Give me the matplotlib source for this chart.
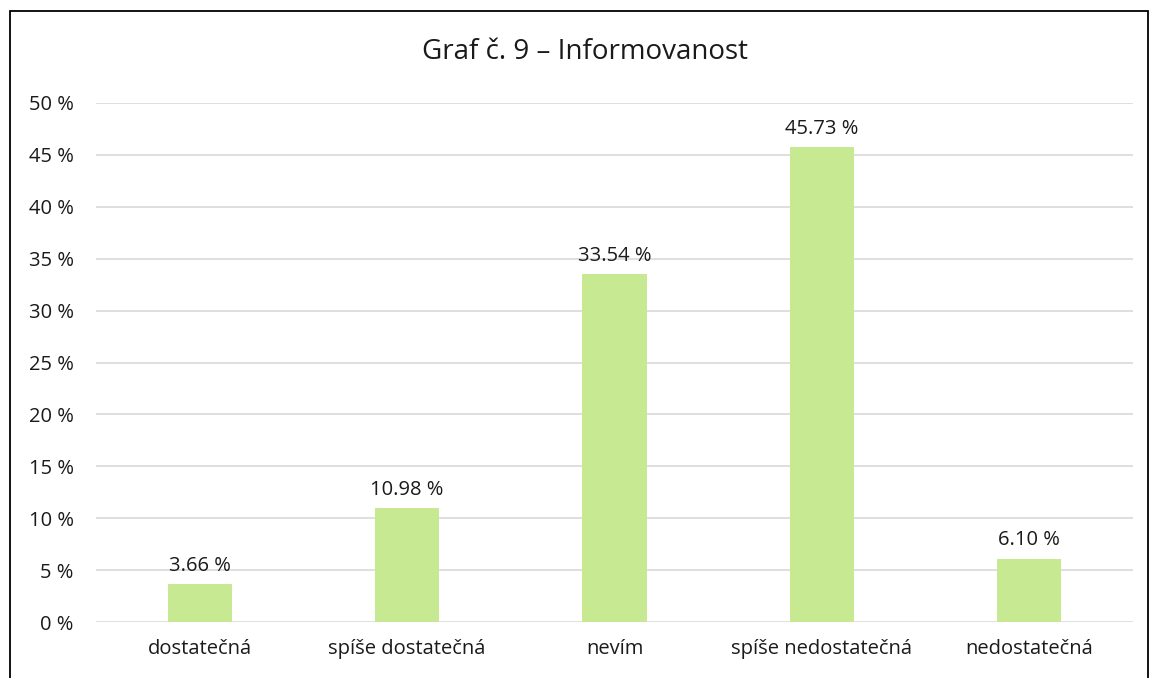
import matplotlib.pyplot as plt
from matplotlib.patches import Rectangle
from matplotlib.ticker import FuncFormatter

categories = ['dostatečná', 'spíše dostatečná', 'nevím', 'spíše nedostatečná', 'nedostatečná']
values = [3.66, 10.98, 33.54, 45.73, 6.10]
yticks = [0, 5, 10, 15, 20, 25, 30, 35, 40, 45, 50]

plt.rcParams['font.family'] = ['Open Sans', 'DejaVu Sans']

fig = plt.figure(figsize=(11.51, 6.78), dpi=100)
ax = fig.add_axes([96 / 1151, 56 / 678, 1037 / 1151, 519 / 678])

x = list(range(len(categories)))
bars = ax.bar(x, values, width=0.31, color='#C6E991', zorder=2)

for b, v in zip(bars, values):
    ax.annotate(f'{v:.2f} %', (b.get_x() + b.get_width() / 2, v),
                xytext=(0, 6), textcoords='offset points',
                ha='center', va='bottom', fontsize=14.5, color='#1a1a1a')

ax.set_xlim(-0.5, 4.5)
ax.set_ylim(0, 50)
ax.set_yticks(yticks)
ax.yaxis.set_major_formatter(FuncFormatter(lambda v, p: f'{v:.0f} %'))
ax.set_xticks(x)
ax.set_xticklabels(categories)
ax.tick_params(axis='both', length=0, labelsize=14.5, colors='#1a1a1a')
ax.tick_params(axis='y', pad=16)
ax.tick_params(axis='x', pad=12)
ax.grid(axis='y', color='#D9D9D9', linewidth=1.2, zorder=0)
for s in ax.spines.values():
    s.set_visible(False)

fig.text(585 / 1151, 1 - 52 / 678, 'Graf č. 9 – Informovanost', ha='center', va='center',
         fontsize=20, color='#1a1a1a')

frame = Rectangle((9.5 / 1151, -0.1), (1147.5 - 9.5) / 1151, 1.1 - 11.5 / 678,
                  transform=fig.transFigure, fill=False, edgecolor='black',
                  linewidth=1.3, clip_on=False)
fig.patches.append(frame)

fig.savefig('out.png', dpi=100)
plt.close()
